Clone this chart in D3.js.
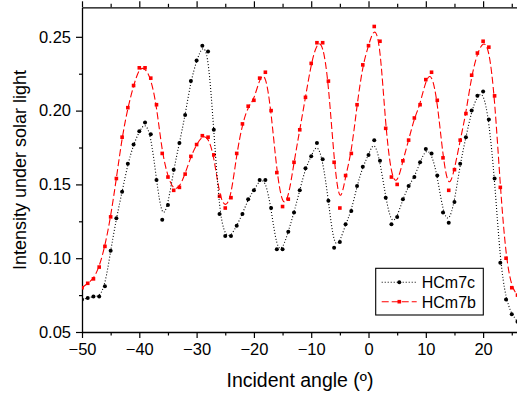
<!DOCTYPE html>
<html>
<head>
<meta charset="utf-8">
<script src="https://cdn.jsdelivr.net/npm/d3@7"></script>
<style>
  body { margin: 0; background: #fff; }
  svg { display: block; font-family: "Liberation Sans", Arial, sans-serif; }
</style>
</head>
<body>
<svg id="chart"></svg>
<script>
// Incident angle, one reading per degree
const angles = d3.range(-50, 27);

// HCm7c (black, dotted)
const hcm7c = [
  0.072, 0.073, 0.074, 0.074, 0.081, 0.105, 0.127, 0.145, 0.164, 0.177,
  0.186, 0.192, 0.184, 0.153, 0.126, 0.136, 0.160, 0.178, 0.197, 0.220,
  0.234, 0.244, 0.240, 0.187, 0.130, 0.115, 0.115, 0.122, 0.130, 0.140,
  0.146, 0.153, 0.153, 0.134, 0.106, 0.106, 0.118, 0.131, 0.146, 0.161,
  0.169, 0.178, 0.167, 0.139, 0.107, 0.111, 0.123, 0.132, 0.149, 0.162,
  0.170, 0.180, 0.166, 0.141, 0.123, 0.128, 0.140, 0.149, 0.155, 0.165,
  0.174, 0.171, 0.156, 0.131, 0.124, 0.138, 0.164, 0.182, 0.200, 0.210,
  0.213, 0.194, 0.154, 0.097, 0.072, 0.062, 0.057
];

// HCm7b (red, dashed)
const hcm7b = [
  0.080, 0.083, 0.086, 0.094, 0.108, 0.128, 0.154, 0.182, 0.202, 0.217,
  0.229, 0.229, 0.222, 0.204, 0.171, 0.155, 0.146, 0.148, 0.157, 0.169,
  0.177, 0.183, 0.182, 0.170, 0.142, 0.134, 0.141, 0.171, 0.191, 0.203,
  0.207, 0.222, 0.226, 0.200, 0.158, 0.135, 0.140, 0.165, 0.187, 0.209,
  0.232, 0.246, 0.246, 0.220, 0.165, 0.134, 0.156, 0.171, 0.204, 0.231,
  0.244, 0.257, 0.247, 0.188, 0.155, 0.150, 0.166, 0.180, 0.195, 0.204,
  0.221, 0.226, 0.207, 0.168, 0.146, 0.160, 0.180, 0.198, 0.224, 0.239,
  0.247, 0.243, 0.210, 0.148, 0.100, 0.080, 0.075
];

const xTicks = [-50, -40, -30, -20, -10, 0, 10, 20];
const xMinor = [-45, -35, -25, -15, -5, 5, 15, 25];
const yTicks = [0.05, 0.10, 0.15, 0.20, 0.25];
const yMinor = [0.075, 0.125, 0.175, 0.225];

const width = 517, height = 395;
const margin = {top: 7.3, bottom: 63, left: 82, right: -0.5};

const svg = d3.select("#chart")
  .attr("width", width)
  .attr("height", height);

const xScale = d3.scaleLinear()
  .domain([-50, 26])
  .range([margin.left, width - margin.right]);

const yScale = d3.scaleLinear()
  .domain([0.05, 0.27])
  .range([height - margin.bottom, margin.top]);

// axes
const bottom = height - margin.bottom;

function styleAxis(g) {
  g.select(".domain").attr("stroke", "#000").attr("stroke-width", 1.3);
  g.selectAll(".tick line").attr("stroke", "#000").attr("stroke-width", 1.2);
  g.selectAll(".tick text").attr("fill", "#000").style("font-size", "16.5px");
}

svg.append("g")
  .attr("transform", `translate(0,${bottom})`)
  .call(d3.axisBottom(xScale).tickValues(xMinor).tickSize(3.5).tickFormat(""))
  .call(g => g.select(".domain").remove())
  .call(styleAxis);

svg.append("g")
  .attr("transform", `translate(0,${bottom})`)
  .call(d3.axisBottom(xScale).tickValues(xTicks).tickSize(6).tickPadding(5).tickSizeOuter(0)
    .tickFormat(d3.format("d")))
  .call(styleAxis);

svg.append("g")
  .attr("transform", `translate(0,${margin.top})`)
  .call(d3.axisTop(xScale).tickValues(xMinor).tickSize(3.5).tickFormat(""))
  .call(g => g.select(".domain").remove())
  .call(styleAxis);

svg.append("g")
  .attr("transform", `translate(0,${margin.top})`)
  .call(d3.axisTop(xScale).tickValues(xTicks).tickSize(6).tickSizeOuter(0).tickFormat(""))
  .call(styleAxis);

svg.append("g")
  .attr("transform", `translate(${margin.left},0)`)
  .call(d3.axisLeft(yScale).tickValues(yMinor).tickSize(3).tickFormat(""))
  .call(g => g.select(".domain").remove())
  .call(styleAxis);

svg.append("g")
  .attr("transform", `translate(${margin.left},0)`)
  .call(d3.axisLeft(yScale).tickValues(yTicks).tickSize(6).tickPadding(5).tickSizeOuter(0)
    .tickFormat(d3.format(".2f")))
  .call(styleAxis);

// axis titles
svg.append("text")
  .attr("x", 300)
  .attr("y", 387)
  .attr("text-anchor", "middle")
  .style("font-size", "19.5px")
  .text("Incident angle (\u00ba)");

svg.append("text")
  .attr("transform", "translate(26,170) rotate(-90)")
  .attr("text-anchor", "middle")
  .style("font-size", "18px")
  .text("Intensity under solar light");

// series
const series = [
  {name: "HCm7c", values: hcm7c, color: "#000", dash: "1,2", shape: "circle"},
  {name: "HCm7b", values: hcm7b, color: "#ff0000", dash: "7,3", shape: "square"}
];

const line = d3.line()
  .x(d => xScale(d[0]))
  .y(d => yScale(d[1]))
  .curve(d3.curveBasis);

svg.append("clipPath").attr("id", "plot")
  .append("rect")
  .attr("x", margin.left).attr("y", margin.top)
  .attr("width", width - margin.left).attr("height", bottom - margin.top);

const plot = svg.append("g").attr("clip-path", "url(#plot)");

// red drawn first so black sits on top where they meet? draw black last
[series[1], series[0]].forEach(s => {
  const pts = angles.map((a, i) => [a, s.values[i]]);
  plot.append("path")
    .datum(pts)
    .attr("fill", "none")
    .attr("stroke", s.color)
    .attr("stroke-width", 1.1)
    .attr("stroke-dasharray", s.dash)
    .attr("d", line);

  if (s.shape === "circle") {
    plot.selectAll(null)
      .data(pts)
      .enter().append("circle")
      .attr("cx", d => xScale(d[0]))
      .attr("cy", d => yScale(d[1]))
      .attr("r", 2)
      .attr("fill", s.color);
  } else {
    plot.selectAll(null)
      .data(pts)
      .enter().append("rect")
      .attr("x", d => xScale(d[0]) - 1.8)
      .attr("y", d => yScale(d[1]) - 1.8)
      .attr("width", 3.6)
      .attr("height", 3.6)
      .attr("fill", s.color);
  }
});

// legend
const legend = svg.append("g");
legend.append("rect")
  .attr("x", 375.7).attr("y", 268.3)
  .attr("width", 107.6).attr("height", 46.7)
  .attr("fill", "#fff")
  .attr("stroke", "#000")
  .attr("stroke-width", 1.1);

series.forEach((s, i) => {
  const ly = 282.3 + i * 19.4;
  legend.append("line")
    .attr("x1", 381.7).attr("x2", 416.7)
    .attr("y1", ly).attr("y2", ly)
    .attr("stroke", s.color)
    .attr("stroke-width", 1.1)
    .attr("stroke-dasharray", s.dash);
  if (s.shape === "circle") {
    legend.append("circle").attr("cx", 399.3).attr("cy", ly).attr("r", 2).attr("fill", s.color);
  } else {
    legend.append("rect").attr("x", 399.3 - 1.8).attr("y", ly - 1.8)
      .attr("width", 3.6).attr("height", 3.6).attr("fill", s.color);
  }
  legend.append("text")
    .attr("x", 421.7)
    .attr("y", ly + 6)
    .style("font-size", "16px")
    .text(s.name);
});
</script>
</body>
</html>
